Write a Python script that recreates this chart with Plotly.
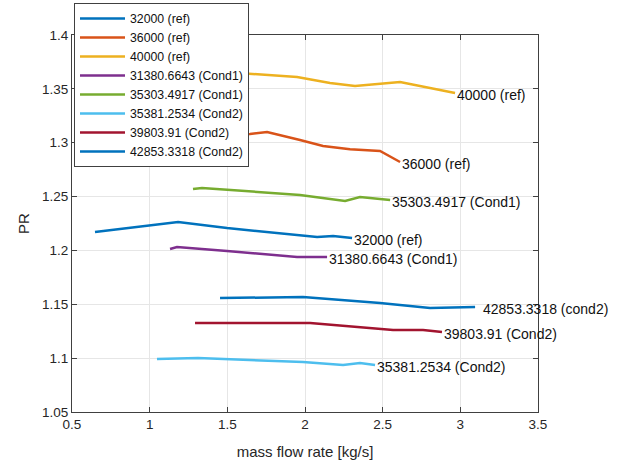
import plotly.graph_objects as go

# ---- data ----
names = ["32000 (ref)", "36000 (ref)", "40000 (ref)", "31380.6643 (Cond1)",
         "35303.4917 (Cond1)", "35381.2534 (Cond2)", "39803.91 (Cond2)", "42853.3318 (Cond2)"]
end_labels = ["32000 (ref)", "36000 (ref)", "40000 (ref)", "31380.6643 (Cond1)",
              "35303.4917 (Cond1)", "35381.2534 (Cond2)", "39803.91 (Cond2)", "42853.3318 (cond2)"]
colors = ["#0072BD", "#D95319", "#EDB120", "#7E2F8E", "#77AC30", "#4DBEEE", "#A2142F", "#0072BD"]

x_32000 = [0.648, 1.183, 1.498, 2.078, 2.181, 2.303]
y_32000 = [1.2171, 1.2264, 1.2208, 1.2124, 1.2134, 1.2115]

x_36000 = [1.20, 1.45, 1.646, 1.756, 1.968, 2.116, 2.29, 2.483, 2.612]
y_36000 = [1.309, 1.307, 1.3081, 1.3100, 1.3025, 1.2969, 1.2940, 1.2923, 1.2821]

x_40000 = [1.05, 1.35, 1.646, 1.949, 2.161, 2.322, 2.612, 2.966]
y_40000 = [1.370, 1.367, 1.3638, 1.3610, 1.3554, 1.3526, 1.3564, 1.3461]

x_31380 = [1.131, 1.176, 1.498, 1.949, 2.142]
y_31380 = [1.2013, 1.2032, 1.1994, 1.1939, 1.1939]

x_35303 = [1.279, 1.337, 1.968, 2.258, 2.354, 2.548]
y_35303 = [1.2570, 1.2580, 1.2514, 1.2459, 1.2496, 1.2468]

x_35381 = [1.047, 1.311, 1.987, 2.245, 2.354, 2.451]
y_35381 = [1.0992, 1.1001, 1.0964, 1.0936, 1.0955, 1.0936]

x_39803 = [1.292, 2.033, 2.567, 2.760, 2.882]
y_39803 = [1.1326, 1.1326, 1.1261, 1.1261, 1.1242]

x_42853 = [1.453, 1.987, 2.483, 2.805, 3.095]
y_42853 = [1.1558, 1.1567, 1.1512, 1.1465, 1.1474]

xs = [x_32000, x_36000, x_40000, x_31380, x_35303, x_35381, x_39803, x_42853]
ys = [y_32000, y_36000, y_40000, y_31380, y_35303, y_35381, y_39803, y_42853]

x_ticks = [0.5, 1, 1.5, 2, 2.5, 3, 3.5]
y_ticks = [1.05, 1.1, 1.15, 1.2, 1.25, 1.3, 1.35, 1.4]

FONT = "Liberation Sans, Arial, sans-serif"
TXT = "#262626"

fig = go.Figure()
for n, c, x, y in zip(names, colors, xs, ys):
    fig.add_trace(go.Scatter(x=x, y=y, mode="lines", name=n,
                             line=dict(color=c, width=2.5)))

for lab, x, y in zip(end_labels, xs, ys):
    shift = 6 if lab.endswith("(cond2)") else 0
    fig.add_annotation(x=x[-1], y=y[-1], text=lab, showarrow=False,
                       xanchor="left", yanchor="middle", xshift=shift, yshift=-2,
                       font=dict(family=FONT, size=14, color="#111111"))

axis_common = dict(showline=True, linecolor="#404040", linewidth=1, mirror="ticks",
                   ticks="inside", ticklen=5, tickcolor="#404040", automargin=False,
                   showgrid=True, gridcolor="#e6e6e6", gridwidth=1, zeroline=False,
                   tickfont=dict(family=FONT, size=13.5, color=TXT))

ML, MR, MT, MB = 72, 92, 35, 54
PLOT_W = 630 - ML - MR
PLOT_H = 466 - MT - MB

fig.update_layout(
    width=630, height=466,
    margin=dict(l=ML, r=MR, t=MT, b=MB, autoexpand=False),
    plot_bgcolor="white", paper_bgcolor="white",
    font=dict(family=FONT, color=TXT),
    xaxis=dict(range=[0.5, 3.5], tickvals=x_ticks, ticktext=[str(v) for v in x_ticks],
               title=dict(text="mass flow rate [kg/s]", font=dict(family=FONT, size=15, color=TXT)),
               **axis_common),
    yaxis=dict(range=[1.05, 1.4], tickvals=y_ticks, ticktext=[str(v) for v in y_ticks],
               title=dict(text="PR", font=dict(family=FONT, size=15, color=TXT), standoff=8),
               **axis_common),
    legend=dict(x=(74 - ML) / PLOT_W, y=1 + (MT - 3) / PLOT_H,
                xanchor="left", yanchor="top",
                bgcolor="white", bordercolor="#404040", borderwidth=1,
                font=dict(family=FONT, size=12.3, color="#111111"),
                tracegroupgap=0, itemwidth=45),
    showlegend=True,
)

fig.write_html("out.html", config={"displayModeBar": False},
               post_script="document.body.style.margin='0';")
